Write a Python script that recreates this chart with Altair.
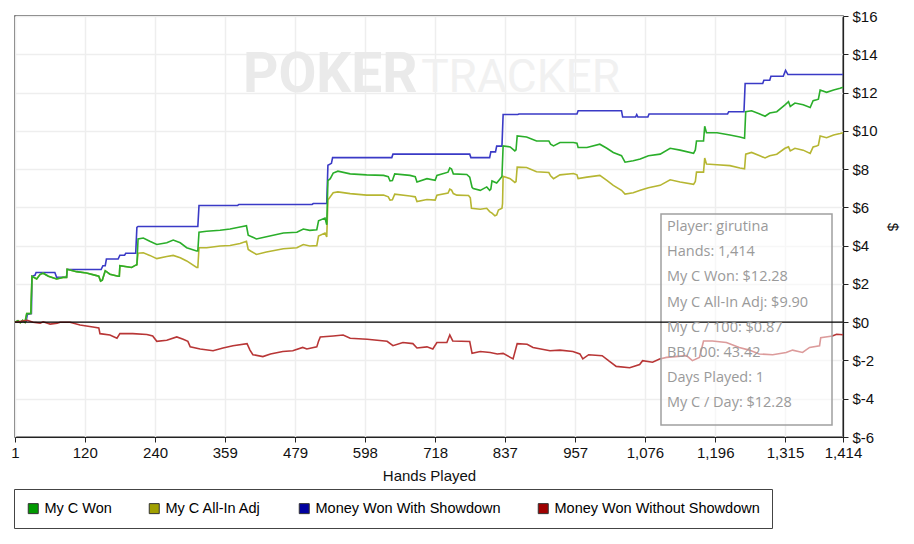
import altair as alt
import pandas as pd

# ---------------- data (hand number, cumulative $) ----------------
my_c_won = [(1,0),(6,0.08),(10,-0.02),(14,0.1),(18,0.0),(21,0.45),(28,0.45),(30,2.4),(38,2.26),(44,2.5),(49,2.56),
            (58,2.4),(72,2.26),(83,2.34),(89,2.34),(90,2.77),(106,2.64),(123,2.57),(137,2.46),(144,2.4),(147,2.15),
            (150,2.2),(155,2.69),(163,2.51),(177,2.4),(179,2.4),(180,2.95),(200,2.86),(207,2.98),(209,3.0),(211,4.35),
            (220,4.4),(231,4.23),(243,4.06),(260,4.15),(271,4.29),(283,4.15),(294,3.89),(311,3.72),(313,3.72),(315,4.7),
            (328,4.75),(351,4.8),(368,4.87),(385,4.97),(396,5.04),(399,4.55),(403,4.49),(413,4.35),(430,4.46),(459,4.66),
            (482,4.7),(493,4.87),(504,4.8),(516,4.83),(519,5.3),(530,5.44),(533,5.09),(535,7.4),(539,7.5),(544,7.79),
            (552,7.89),(573,7.75),(601,7.7),(630,7.67),(638,7.6),(641,7.38),(645,7.4),(649,7.75),(675,7.67),(684,7.6),
            (687,7.33),(704,7.5),(718,7.41),(721,7.67),(740,7.84),(743,8.06),(746,8.0),(749,7.75),(772,7.72),(777,7.58),
            (781,7.05),(783,6.98),(795,6.89),(806,7.07),(811,6.89),(813,6.95),(815,7.38),(823,7.27),(829,7.5),(832,7.61),
            (834,9.21),(846,9.16),(854,8.95),(856,9.0),(858,9.73),(874,9.68),(891,9.47),(912,9.47),(915,9.3),(920,9.21),
            (931,9.39),(954,9.39),(960,9.35),(962,9.13),(977,9.13),(999,9.3),(1011,9.09),(1022,8.87),(1036,8.7),
            (1042,8.36),(1056,8.44),(1068,8.53),(1082,8.7),(1102,8.78),(1119,9.09),(1136,8.99),(1159,8.82),(1162,9.0),
            (1164,9.47),(1176,9.47),(1178,10.24),(1181,9.9),(1199,9.9),(1221,9.78),(1238,9.68),(1246,9.61),(1248,11.0),
            (1258,11.05),(1272,10.88),(1281,10.76),(1289,10.93),(1301,11.0),(1315,11.36),(1321,11.53),(1324,11.27),
            (1332,11.45),(1346,11.36),(1358,11.22),(1363,11.57),(1369,11.62),(1372,11.65),(1375,12.13),(1386,12.01),
            (1398,12.13),(1409,12.22),(1414,12.28)]

my_c_all_in_adj = [(1,0),(6,0.08),(10,-0.02),(14,0.1),(18,0.0),(21,0.45),(28,0.45),(30,2.4),(38,2.26),(44,2.5),
            (49,2.56),(58,2.4),(72,2.26),(83,2.34),(89,2.34),(90,2.77),(106,2.64),(123,2.57),(137,2.46),(144,2.4),
            (147,2.15),(150,2.2),(155,2.69),(163,2.51),(177,2.4),(179,2.4),(180,2.95),(200,2.86),(207,2.98),(209,3.0),
            (211,3.6),(220,3.63),(231,3.49),(243,3.32),(260,3.43),(271,3.49),(283,3.37),(294,3.2),(311,2.86),(313,2.86),
            (315,3.89),(328,3.89),(351,3.98),(368,4.01),(385,4.11),(396,4.23),(399,3.8),(403,3.72),(413,3.54),(430,3.67),
            (459,3.84),(482,3.89),(493,4.06),(504,3.98),(516,4.0),(519,4.5),(530,4.66),(533,4.45),(535,6.38),(544,6.76),
            (552,6.81),(573,6.72),(601,6.64),(630,6.64),(638,6.55),(641,6.38),(645,6.4),(649,6.69),(675,6.59),(684,6.55),
            (687,6.3),(704,6.41),(718,6.38),(721,6.64),(740,6.75),(743,6.95),(746,6.9),(749,6.72),(755,6.64),(775,6.62),
            (778,6.5),(780,5.95),(795,5.9),(806,5.95),(811,5.78),(815,5.7),(820,5.56),(823,5.6),(826,5.86),(832,5.95),
            (833,6.2),(834,7.62),(846,7.5),(854,7.3),(856,7.35),(858,8.1),(874,8.08),(891,7.86),(912,7.82),(915,7.65),
            (920,7.5),(931,7.7),(954,7.77),(960,7.7),(962,7.5),(977,7.58),(999,7.67),(1011,7.41),(1022,7.15),(1036,6.89),
            (1042,6.69),(1056,6.76),(1068,6.89),(1082,7.03),(1102,7.15),(1119,7.44),(1136,7.33),(1159,7.2),(1162,7.35),
            (1164,7.84),(1176,7.84),(1178,8.58),(1181,8.27),(1199,8.23),(1221,8.18),(1238,8.06),(1246,8.01),(1248,8.78),
            (1258,8.87),(1272,8.7),(1281,8.58),(1289,8.7),(1301,8.78),(1315,9.09),(1321,9.16),(1324,8.95),(1332,9.09),
            (1346,8.99),(1358,8.82),(1363,9.16),(1369,9.21),(1372,9.25),(1375,9.73),(1386,9.64),(1398,9.78),(1409,9.86),
            (1414,9.9)]

with_showdown = [(1,0),(20,0.05),(22,0.4),(29,0.45),(30,2.4),(35,2.45),(37,2.6),(69,2.6),(72,2.35),(89,2.35),
            (90,2.75),(148,2.75),(151,2.95),(155,2.95),(157,3.3),(177,3.3),(180,3.5),(188,3.5),(190,3.6),(207,3.6),
            (209,4.95),(211,5.0),(313,5.0),(315,6.1),(381,6.1),(383,6.15),(508,6.15),(510,6.2),(533,6.2),(535,8.2),
            (541,8.3),(543,8.6),(644,8.6),(646,8.78),(777,8.78),(779,8.6),(811,8.6),(813,8.9),(821,8.9),(823,9.2),
            (832,9.2),(834,10.85),(859,10.85),(861,10.88),(960,10.88),(962,11.05),(1036,11.05),(1038,10.72),(1060,10.72),
            (1062,10.85),(1064,10.72),(1081,10.72),(1083,10.88),(1217,10.88),(1219,11.0),(1245,11.0),(1247,12.47),
            (1277,12.47),(1279,12.64),(1289,12.64),(1291,12.85),(1312,12.85),(1316,13.16),(1320,12.94),(1414,12.94)]

without_showdown = [(1,0),(22,0.1),(32,0),(44,-0.05),(49,0.02),(61,-0.1),(73,-0.05),(78,0.0),(95,0.0),(112,-0.15),
            (134,-0.25),(144,-0.3),(146,-0.6),(163,-0.67),(175,-0.84),(180,-0.6),(202,-0.6),(226,-0.64),(236,-0.72),
            (243,-1.0),(260,-0.94),(277,-0.77),(288,-0.89),(296,-1.0),(300,-1.29),(317,-1.4),(339,-1.49),(356,-1.35),
            (373,-1.23),(397,-1.12),(402,-1.46),(407,-1.7),(424,-1.8),(437,-1.66),(458,-1.53),(475,-1.49),(492,-1.32),
            (499,-1.4),(516,-1.29),(519,-1.0),(522,-0.77),(544,-0.72),(561,-0.67),(573,-0.84),(602,-0.89),(636,-1.0),
            (646,-1.23),(663,-1.06),(680,-1.12),(687,-1.35),(704,-1.29),(714,-1.4),(721,-1.06),(738,-1.06),(743,-0.67),
            (748,-0.98),(777,-1.01),(781,-1.63),(795,-1.53),(812,-1.58),(824,-1.66),(834,-1.63),(851,-1.92),(858,-1.12),
            (875,-1.15),(885,-1.32),(914,-1.49),(931,-1.46),(953,-1.53),(965,-1.66),(970,-1.92),(980,-1.7),(1003,-1.75),
            (1015,-2.04),(1027,-2.31),(1050,-2.38),(1067,-2.21),(1072,-2.01),(1089,-2.09),(1101,-1.92),(1113,-1.84),
            (1147,-1.75),(1157,-2.01),(1169,-1.84),(1176,-0.98),(1191,-0.98),(1215,-1.06),(1237,-1.32),(1254,-1.46),
            (1271,-1.66),(1294,-1.7),(1317,-1.58),(1328,-1.46),(1345,-1.58),(1357,-1.32),(1374,-1.23),(1376,-0.81),
            (1396,-0.72),(1403,-0.63),(1414,-0.66)]

series_names = ["My C Won", "My C All-In Adj", "Money Won With Showdown", "Money Won Without Showdown"]
legend_colors = ["#009a00", "#a0a000", "#0000a0", "#a00000"]
line_colors = ["#2aae2a", "#b6b632", "#3a3ac6", "#b83636"]
x_ticks = [1, 120, 240, 359, 479, 598, 718, 837, 957, 1076, 1196, 1315, 1414]
y_ticks = [-6, -4, -2, 0, 2, 4, 6, 8, 10, 12, 14, 16]
info_lines = ["Player: girutina", "Hands: 1,414", "My C Won: $12.28", "My C All-In Adj: $9.90",
              "My C / 100: $0.87", "BB/100: 43.42", "Days Played: 1", "My C / Day: $12.28"]
watermark_words = ["POKER", "TRACKER"]

# ---------------- build table ----------------
frames = []
for name, pts in zip(series_names, [my_c_won, my_c_all_in_adj, with_showdown, without_showdown]):
    frames.append(pd.DataFrame({"hand": [p[0] for p in pts], "value": [p[1] for p in pts], "series": name}))
data = pd.concat(frames, ignore_index=True)

FONT = "Liberation Sans, Arial, sans-serif"

xscale = alt.Scale(domain=[1, 1414], nice=False, zero=False)
yscale = alt.Scale(domain=[-6, 16], nice=False, zero=False)
xaxis = alt.Axis(values=x_ticks, format=",d", title="Hands Played", labelFlush=False,
                 tickSize=5, labelPadding=3, titlePadding=8, grid=True)
yaxis = alt.Axis(orient="right", values=y_ticks, labelExpr="'$' + datum.value", title="$",
                 tickSize=5, labelPadding=4, titlePadding=7, grid=True)
X = alt.X("hand:Q", scale=xscale, axis=xaxis)
Y = alt.Y("value:Q", scale=yscale, axis=yaxis)

# watermark
wm_left = alt.Chart(pd.DataFrame({"t": [watermark_words[0]]})).mark_text(
    align="left", baseline="alphabetic", font="Roboto", fontSize=55, fontWeight="bold", color="#eaeaea"
).encode(text="t:N", x=alt.value(228), y=alt.value(76))
wm_right = alt.Chart(pd.DataFrame({"t": [watermark_words[1]]})).mark_text(
    align="right", baseline="alphabetic", font="Roboto", fontSize=46, fontWeight="normal", color="#f1f1f1"
).encode(text="t:N", x=alt.value(605), y=alt.value(76))

# lines, drawn blue, olive, green, red
layers = [wm_left, wm_right]
for idx in [2, 1, 0, 3]:
    layers.append(
        alt.Chart(data).transform_filter(alt.datum.series == series_names[idx])
        .mark_line(color=line_colors[idx], strokeWidth=1.6)
        .encode(x=X, y=Y)
    )

# legend carrier (no visible points)
legend_layer = alt.Chart(data).transform_filter("false").mark_square(size=100).encode(
    x=X, y=Y,
    fill=alt.Fill("series:N", scale=alt.Scale(domain=series_names, range=legend_colors),
                  legend=alt.Legend(orient="none", legendX=-1, legendY=473, direction="horizontal",
                                    title=None, symbolType="square", symbolSize=100,
                                    symbolStrokeColor="#333333", symbolStrokeWidth=1, symbolOpacity=1,
                                    labelFont=FONT, labelFontSize=14.5, labelColor="#000000",
                                    labelLimit=500, labelOffset=4, columnPadding=35, padding=12,
                                    strokeColor="#444444", fillColor="#ffffff"))
)
layers.append(legend_layer)

# info box
box = alt.Chart(pd.DataFrame({"a": [0]})).mark_rect(
    fill="white", fillOpacity=0.5, stroke="#a0a0a0", strokeWidth=1.5
).encode(x=alt.value(646), x2=alt.value(817), y=alt.value(198), y2=alt.value(409))
layers.append(box)

zero = alt.Chart(pd.DataFrame({"value": [0]})).mark_rule(color="#000000", strokeWidth=1.2).encode(y=Y)
layers.append(zero)

info = alt.Chart(pd.DataFrame({"t": ["\n".join(info_lines)]})).mark_text(
    align="left", baseline="top", lineBreak="\n", lineHeight=25.2,
    font="Open Sans", fontSize=14.5, color="#9a9a9a"
).encode(text="t:N", x=alt.value(652), y=alt.value(204))
layers.append(info)

chart = alt.layer(*layers).properties(
    width=828, height=421,
    autosize=alt.AutoSizeParams(type="none"),
    padding={"left": 7, "top": 8, "right": 63, "bottom": 92},
    background="white",
).configure_view(
    stroke="#444444", strokeWidth=1.5
).configure_axis(
    labelFont=FONT, titleFont=FONT, labelFontSize=15, titleFontSize=15, titleFontWeight="normal",
    labelColor="#111111", titleColor="#111111", domainColor="#222222", tickColor="#222222",
    gridColor="#eeeeee", gridWidth=1.5, domainWidth=1.2
)

chart.save("out.html", embed_options={"renderer": "svg", "actions": False})
